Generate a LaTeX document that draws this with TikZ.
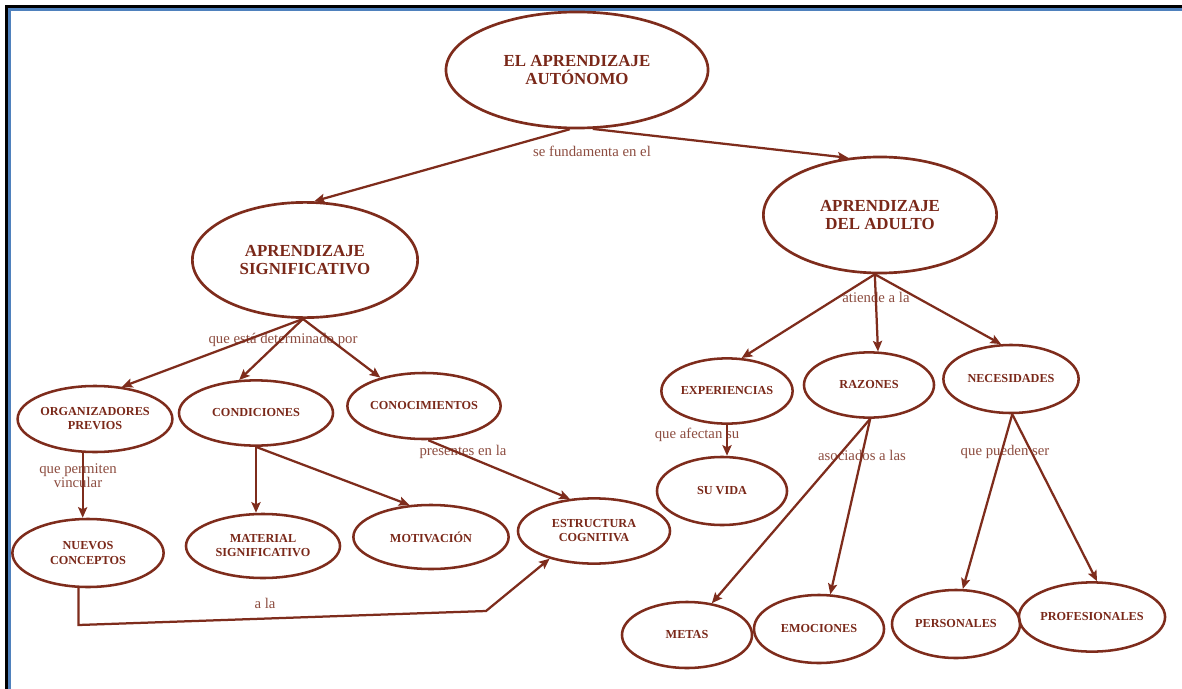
\documentclass[tikz,border=0pt]{standalone}
\usepackage{fontspec}
\setmainfont{Liberation Serif}
\usetikzlibrary{shapes.geometric, arrows.meta}

\definecolor{mapline}{HTML}{7E2C1C}
\definecolor{maptext}{HTML}{7A2819}
\definecolor{lbltext}{HTML}{8D4D40}
\definecolor{frameblue}{HTML}{4F81BD}

\tikzset{
  bigconcept/.style={ellipse, draw=mapline, line width=1.9pt, inner sep=0pt,
    align=center, text=maptext, font=\bfseries\fontsize{12}{12.5}\selectfont},
  concept/.style={ellipse, draw=mapline, line width=1.8pt, inner sep=0pt,
    align=center, text=maptext, font=\bfseries\fontsize{8.7}{10}\selectfont},
  linkword/.style={text=lbltext, align=center, inner sep=0pt,
    font=\fontsize{10.5}{10}\selectfont},
  link/.style={->, draw=mapline, line width=1.6pt},
}

\begin{document}
\begin{tikzpicture}[x=0.025cm, y=-0.025cm, >={Stealth[length=7.5pt, width=6.5pt, inset=1.5pt]}]

  % Page and frame (pixel units, y downwards)
  \useasboundingbox (0,0) rectangle (1182,689);
  \fill[white] (0,0) rectangle (1182,689);
  \draw[black, line width=2.35pt] (6.7,689) -- (6.7,6.7) -- (1182,6.7);
  \draw[frameblue, line width=1.7pt] (9.5,689) -- (9.5,9.5) -- (1182,9.5);

  % Main concepts
  \node[bigconcept, minimum width=6.55cm, minimum height=2.9cm] (autonomo) at (577,70) {EL APRENDIZAJE\\AUT\'ONOMO};
  \node[bigconcept, minimum width=5.63cm, minimum height=2.88cm] (signif) at (305,260) {APRENDIZAJE\\SIGNIFICATIVO};
  \node[bigconcept, minimum width=5.83cm, minimum height=2.9cm] (adulto) at (880,215) {APRENDIZAJE\\DEL ADULTO};

  % Left branch
  \node[concept, minimum width=3.85cm, minimum height=1.65cm] (organiz) at (95,419) {ORGANIZADORES\\PREVIOS};
  \node[concept, minimum width=3.85cm, minimum height=1.63cm] (condic) at (256,413) {CONDICIONES};
  \node[concept, minimum width=3.83cm, minimum height=1.65cm] (conocim) at (424,406) {CONOCIMIENTOS};
  \node[concept, minimum width=3.78cm, minimum height=1.7cm] (nuevos) at (88,553) {NUEVOS\\CONCEPTOS};
  \node[concept, minimum width=3.85cm, minimum height=1.6cm] (material) at (263,546) {MATERIAL\\SIGNIFICATIVO};
  \node[concept, minimum width=3.88cm, minimum height=1.6cm] (motiv) at (431,537) {MOTIVACI\'ON};
  \node[concept, minimum width=3.8cm, minimum height=1.63cm] (estruc) at (594,531) {ESTRUCTURA\\COGNITIVA};

  % Right branch
  \node[concept, minimum width=3.28cm, minimum height=1.63cm] (experi) at (727,391) {EXPERIENCIAS};
  \node[concept, minimum width=3.25cm, minimum height=1.63cm] (razones) at (869,385) {RAZONES};
  \node[concept, minimum width=3.38cm, minimum height=1.7cm] (necesid) at (1011,379) {NECESIDADES};
  \node[concept, minimum width=3.25cm, minimum height=1.7cm] (suvida) at (722,491) {SU VIDA};
  \node[concept, minimum width=3.25cm, minimum height=1.65cm] (metas) at (687,635) {METAS};
  \node[concept, minimum width=3.25cm, minimum height=1.7cm] (emocion) at (819,629) {EMOCIONES};
  \node[concept, minimum width=3.2cm, minimum height=1.7cm] (personal) at (956,624) {PERSONALES};
  \node[concept, minimum width=3.4cm, minimum height=1.73cm] (profesio) at (1092,617) {PROFESIONALES};

  % Linking words
  \node[linkword] (lfunda) at (592,151) {se fundamenta en el};
  \node[linkword] (ldeterm) at (283,340) {que est\'a determinado por};
  \node[linkword] (lvincul) at (78,476) {que permiten\\vincular};
  \node[linkword] (lpresen) at (463,452) {presentes en la};
  \node[linkword] (lala) at (265,603) {a la};
  \node[linkword] (latiende) at (876,297) {atiende a la};
  \node[linkword] (lafecta) at (697,435) {que afectan su};
  \node[linkword] (lasocia) at (862,455) {asociados a las};
  \node[linkword] (lpueden) at (1005,452) {que pueden ser};

  % Connectors from the top
  \draw[link] (autonomo.-97) -- (signif.81);
  \draw[link] (autonomo.-75) -- (adulto.119);

  % Aprendizaje significativo
  \draw[link] (signif.-92) -- (organiz.50);
  \draw[link] (signif.-92) -- (condic.117);
  \draw[link] (signif.-92) -- (conocim.147);
  \draw[link] (organiz.-110) -- (organiz.-110 |- nuevos.north);
  \draw[link] (condic.south) -- (condic.south |- material.north);
  \draw[link] (condic.south) -- (motiv.124);
  \draw[link] (conocim.-83) -- (estruc.127);

  % Nuevos conceptos back to the cognitive structure
  \coordinate (bendA) at (79,625);
  \coordinate (bendB) at (486,611);
  \draw[link] (nuevos.-105) -- (nuevos.-105 |- bendA) -- (bendB) -- (estruc.212);

  % Aprendizaje del adulto
  \draw[link] (adulto.-95) -- (experi.66);
  \draw[link] (adulto.-95) -- (razones.75);
  \draw[link] (adulto.-95) -- (necesid.106);
  \draw[link] (experi.south) -- (experi.south |- suvida.north);
  \draw[link] (razones.-88) -- (metas.52);
  \draw[link] (razones.-88) -- (emocion.72);
  \draw[link] (necesid.-88) -- (personal.79);
  \draw[link] (necesid.-88) -- (profesio.82);

\end{tikzpicture}
\end{document}
